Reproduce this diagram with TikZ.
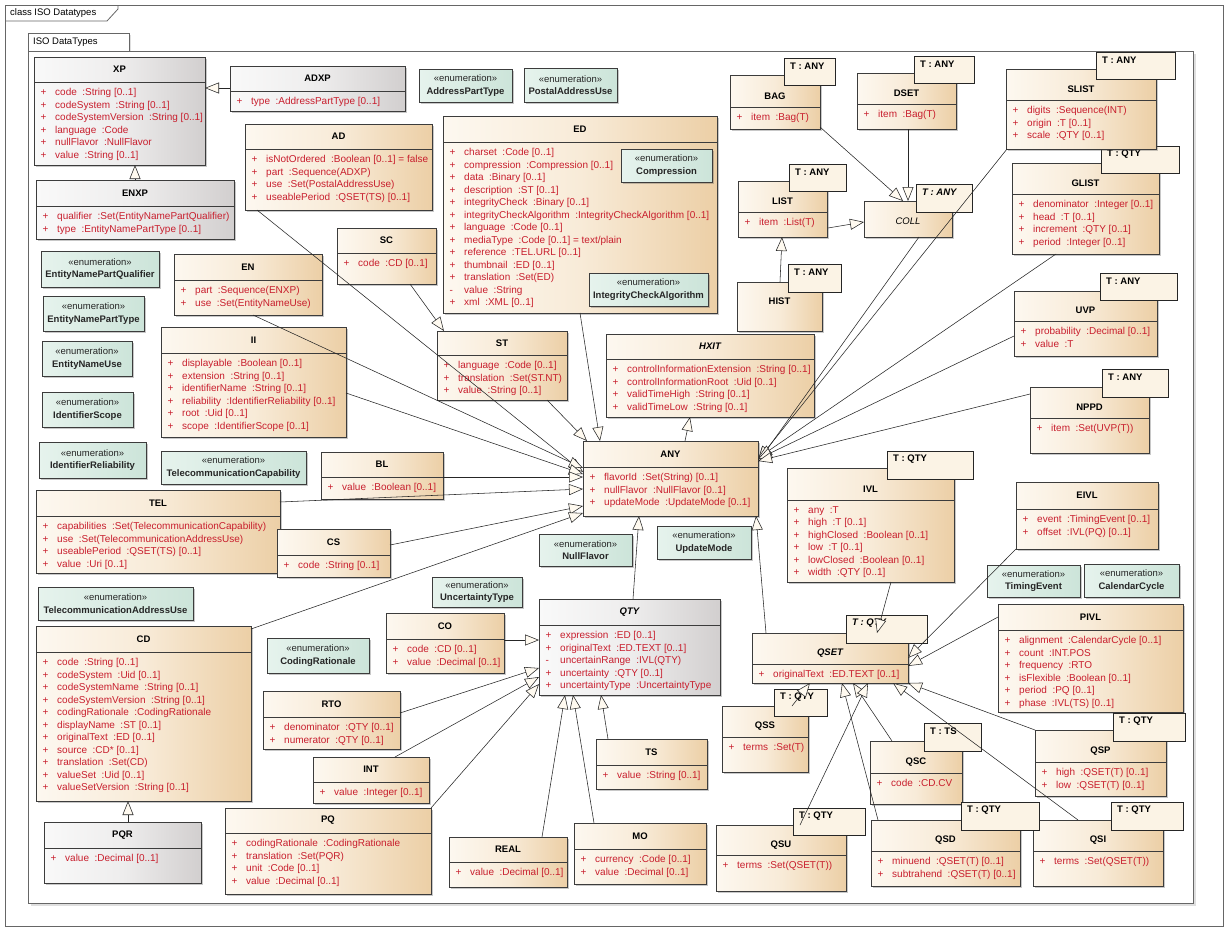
\documentclass[tikz,border=0pt]{standalone}
\usepackage{fontspec}
\setmainfont{Liberation Sans}
\usetikzlibrary{arrows.meta,fit,shadows,calc}
\definecolor{attrred}{RGB}{200,30,45}
\definecolor{tanL}{RGB}{253,248,240}
\definecolor{tanM}{RGB}{248,235,216}
\definecolor{tanR}{RGB}{236,207,166}
\definecolor{greyL}{RGB}{249,249,249}
\definecolor{greyM}{RGB}{238,237,237}
\definecolor{greyR}{RGB}{210,207,207}
\definecolor{enumL}{RGB}{230,243,237}
\definecolor{enumR}{RGB}{204,228,217}
\definecolor{tmplfill}{RGB}{251,243,229}
\definecolor{cream}{RGB}{255,250,240}
\definecolor{boxline}{RGB}{60,60,60}
\def\ap{\makebox[14.5pt][l]{+}}
\def\am{\makebox[14.5pt][l]{-}}
\def\gp{\hspace{5.5pt}}
\tikzset{
 cbox/.style={draw=boxline,line width=0.6pt,inner sep=0pt,outer sep=0pt,left color=tanL,right color=tanR,middle color=tanM,
   drop shadow={shadow xshift=2pt,shadow yshift=-2pt,opacity=0.3,fill=black!70}},
 greybox/.style={left color=greyL,right color=greyR,middle color=greyM},
 ebox/.style={draw=boxline,line width=0.6pt,inner sep=0pt,outer sep=0pt,left color=enumL,right color=enumR,
   drop shadow={shadow xshift=2pt,shadow yshift=-2pt,opacity=0.3,fill=black!70}},
 tbox/.style={draw=black!85,line width=0.7pt,inner sep=0pt,outer sep=0pt,fill=tmplfill},
 ttl/.style={font=\fontsize{9.5}{11}\selectfont\bfseries,inner sep=0pt},
 attrs/.style={font=\fontsize{10}{12.5}\selectfont,text=attrred,align=left,inner sep=0pt,anchor=north west},
 etxt/.style={font=\fontsize{9.5}{12.5}\selectfont,align=center,inner sep=0pt,text=black!85},
 tmtxt/.style={font=\fontsize{9.5}{11}\selectfont\bfseries,inner sep=0pt,anchor=west},
 gen/.style={draw=black!85,line width=0.55pt,-{Triangle[length=14pt,width=11pt,fill=cream,line width=0.55pt]}},
 sepline/.style={draw=boxline,line width=0.6pt},
 pkgline/.style={draw=black!60,line width=0.8pt},
}
% class with attributes: [style]{name}{fit}{header y}{title y}{title}{attributes}
\newcommand{\umlc}[7][]{%
  \node[cbox,#1,fit={#3}] (#2) {};
  \draw[sepline] (#2.west |- 0,#4) -- (#2.east |- 0,#4);
  \node[ttl] at (#2.center |- 0,#5) {#6};
  \node[attrs,xshift=6.5pt,yshift=-6.2pt] at (#2.west |- 0,#4) {#7};
}
% class with name only
\newcommand{\umln}[5][]{%
  \node[cbox,#1,fit={#3}] (#2) {};
  \node[ttl] at (#2.center |- 0,#4) {#5};
}
% template parameter box
\newcommand{\umlt}[4][]{%
  \node[tbox,fit={#3}] (#2) {};
  \node[tmtxt,#1,xshift=6pt,yshift=-8.5pt] at (#2.north west) {#4};
}
% enumeration
\newcommand{\umle}[3]{%
  \node[ebox,fit={#2}] (#1) {};
  \node[etxt] at (#1.center) {«enumeration»\\\textbf{#3}};
}
% generalization connector
\newcommand{\gline}[4]{\draw[gen] ([shift={(#2)}]#1.north west) -- ([shift={(#4)}]#3.north west);}
\begin{document}
\begin{tikzpicture}[x=1pt,y=-1pt]
\useasboundingbox (0,0) rectangle (1228,932);
\fill[white] (0,0) rectangle (1228,932);
% outer frame
\draw[pkgline] (5,5) rectangle (1223,926);
\draw[pkgline] (5,21) -- (107,21) -- (118,9) -- (118,5);
\node[font=\fontsize{9.5}{11}\selectfont,anchor=west,inner sep=0pt] (ftitle) at (10,13) {class ISO Datatypes};
% package
\draw[pkgline,fill=white,drop shadow={shadow xshift=2pt,shadow yshift=-2pt,opacity=0.25}] (28,33) rectangle (129,51);
\draw[pkgline,fill=white,drop shadow={shadow xshift=3pt,shadow yshift=-3pt,opacity=0.25}] (28,51) rectangle (1193,903);
\node[font=\fontsize{9.5}{11}\selectfont,anchor=west,inner sep=0pt] (ptitle) at (33,42) {ISO DataTypes};

% ---------- address / names
\umlc[greybox]{XP}{(34,57)(205,165)}{82}{69.5}{XP}{\ap code\gp:String [0..1]\\\ap codeSystem\gp:String [0..1]\\\ap codeSystemVersion\gp:String [0..1]\\\ap language\gp:Code\\\ap nullFlavor\gp:NullFlavor\\\ap value\gp:String [0..1]}
\umlc[greybox]{ADXP}{(230,66)(405,111)}{91}{78.5}{ADXP}{\ap type\gp:AddressPartType [0..1]}
\umlc[greybox]{ENXP}{(36,180)(234,239)}{206}{193}{ENXP}{\ap qualifier\gp:Set(EntityNamePartQualifier)\\\ap type\gp:EntityNamePartType [0..1]}
\umle{eAPT}{(419,69)(512,102)}{AddressPartType}
\umle{ePAU}{(524,68)(617,102)}{PostalAddressUse}
\umlc{AD}{(245,124)(432,210)}{149}{136.5}{AD}{\ap isNotOrdered\gp:Boolean [0..1] = false\\\ap part\gp:Sequence(ADXP)\\\ap use\gp:Set(PostalAddressUse)\\\ap useablePeriod\gp:QSET(TS) [0..1]}
\umlc{ED}{(443,116)(717,313)}{142}{129}{ED}{\ap charset\gp:Code [0..1]\\\ap compression\gp:Compression [0..1]\\\ap data\gp:Binary [0..1]\\\ap description\gp:ST [0..1]\\\ap integrityCheck\gp:Binary [0..1]\\\ap integrityCheckAlgorithm\gp:IntegrityCheckAlgorithm [0..1]\\\ap language\gp:Code [0..1]\\\ap mediaType\gp:Code [0..1] = text/plain\\\ap reference\gp:TEL.URL [0..1]\\\ap thumbnail\gp:ED [0..1]\\\ap translation\gp:Set(ED)\\\am value\gp:String\\\ap xml\gp:XML [0..1]}
\umle{eCMP}{(621,149)(712,182)}{Compression}
\umle{eICA}{(589,273)(708,306)}{IntegrityCheckAlgorithm}

% ---------- collections
\umlc{BAG}{(730,75)(820,129)}{107}{96}{BAG}{\ap item\gp:Bag(T)}
\umlt{BAGt}{(784,58)(835,85)}{T : ANY}
\umlc{DSET}{(857,73)(956,129)}{104}{93.5}{DSET}{\ap item\gp:Bag(T)}
\umlt{DSETt}{(914,56)(974,83)}{T : ANY}
\umlc{GLIST}{(1012,163)(1159,254)}{194}{183.5}{GLIST}{\ap denominator\gp:Integer [0..1]\\\ap head\gp:T [0..1]\\\ap increment\gp:QTY [0..1]\\\ap period\gp:Integer [0..1]}
\umlt{GLISTt}{(1101,146)(1179,173)}{T : QTY}
\umlc{SLIST}{(1006,69)(1156,149)}{100}{89.5}{SLIST}{\ap digits\gp:Sequence(INT)\\\ap origin\gp:T [0..1]\\\ap scale\gp:QTY [0..1]}
\umlt{SLISTt}{(1096,52)(1175,79)}{T : ANY}
\umlc{LIST}{(738,181)(827,237)}{212}{201.5}{LIST}{\ap item\gp:List(T)}
\umlt{LISTt}{(789,164)(846,191)}{T : ANY}
\umln{COLL}{(864,201)(952,237)}{221}{\mdseries\itshape COLL}
\umlt[font=\fontsize{9.5}{11}\selectfont\bfseries\itshape]{COLLt}{(916,184)(972,212)}{T : ANY}
\umln{HIST}{(737,282)(822,331)}{301}{HIST}
\umlt{HISTt}{(788,264)(841,292)}{T : ANY}
\umlc{UVP}{(1014,291)(1157,356)}{321}{310.5}{UVP}{\ap probability\gp:Decimal [0..1]\\\ap value\gp:T}
\umlt{UVPt}{(1100,273)(1177,300)}{T : ANY}
\umlc{NPPD}{(1030,387)(1149,453)}{418}{407.5}{NPPD}{\ap item\gp:Set(UVP(T))}
\umlt{NPPDt}{(1102,369)(1168,397)}{T : ANY}

% ---------- left column
\umle{eENPQ}{(41,251)(159,287)}{EntityNamePartQualifier}
\umle{eENPT}{(43,296)(144,331)}{EntityNamePartType}
\umle{eENU}{(42,341)(132,376)}{EntityNameUse}
\umle{eIDS}{(42,392)(133,427)}{IdentifierScope}
\umle{eIDR}{(39,442)(146,478)}{IdentifierReliability}
\umle{eTCC}{(161,451)(306,484)}{TelecommunicationCapability}
\umle{eTAU}{(38,587)(193,620)}{TelecommunicationAddressUse}
\umlc{EN}{(174,254)(322,315)}{280}{267}{EN}{\ap part\gp:Sequence(ENXP)\\\ap use\gp:Set(EntityNameUse)}
\umlc{SC}{(337,228)(436,284)}{253}{240.5}{SC}{\ap code\gp:CD [0..1]}
\umlc{II}{(161,327)(346,437)}{353}{340}{II}{\ap displayable\gp:Boolean [0..1]\\\ap extension\gp:String [0..1]\\\ap identifierName\gp:String [0..1]\\\ap reliability\gp:IdentifierReliability [0..1]\\\ap root\gp:Uid [0..1]\\\ap scope\gp:IdentifierScope [0..1]}
\umlc{ST}{(437,331)(567,400)}{355}{343}{ST}{\ap language\gp:Code [0..1]\\\ap translation\gp:Set(ST.NT)\\\ap value\gp:String [0..1]}
\umlc{HXIT}{(606,334)(814,417)}{359}{346.5}{\itshape HXIT}{\ap controlInformationExtension\gp:String [0..1]\\\ap controlInformationRoot\gp:Uid [0..1]\\\ap validTimeHigh\gp:String [0..1]\\\ap validTimeLow\gp:String [0..1]}
\umlc{ANY}{(583,441)(758,516)}{467}{454}{ANY}{\ap flavorId\gp:Set(String) [0..1]\\\ap nullFlavor\gp:NullFlavor [0..1]\\\ap updateMode\gp:UpdateMode [0..1]}
\umlc{BL}{(321,452)(443,499)}{477}{464.5}{BL}{\ap value\gp:Boolean [0..1]}
\umlc{TEL}{(36,490)(280,573)}{516}{503}{TEL}{\ap capabilities\gp:Set(TelecommunicationCapability)\\\ap use\gp:Set(TelecommunicationAddressUse)\\\ap useablePeriod\gp:QSET(TS) [0..1]\\\ap value\gp:Uri [0..1]}
\umlc{CS}{(277,529)(390,577)}{555}{542}{CS}{\ap code\gp:String [0..1]}
\umle{eNF}{(539,534)(632,566)}{NullFlavor}
\umle{eUM}{(657,526)(751,559)}{UpdateMode}
\umle{eUT}{(432,577)(522,607)}{UncertaintyType}
\umle{eCR}{(267,638)(369,673)}{CodingRationale}

% ---------- intervals / sets
\umlc{IVL}{(787,468)(954,582)}{500}{489.5}{IVL}{\ap any\gp:T\\\ap high\gp:T [0..1]\\\ap highClosed\gp:Boolean [0..1]\\\ap low\gp:T [0..1]\\\ap lowClosed\gp:Boolean [0..1]\\\ap width\gp:QTY [0..1]}
\umlt{IVLt}{(887,451)(973,479)}{T : QTY}
\umlc{EIVL}{(1016,482)(1158,549)}{509}{495.5}{EIVL}{\ap event\gp:TimingEvent [0..1]\\\ap offset\gp:IVL(PQ) [0..1]}
\umle{eTE}{(987,565)(1080,597)}{TimingEvent}
\umle{eCC}{(1084,564)(1179,597)}{CalendarCycle}
\umlc{PIVL}{(998,604)(1183,712)}{630}{617}{PIVL}{\ap alignment\gp:CalendarCycle [0..1]\\\ap count\gp:INT.POS\\\ap frequency\gp:RTO\\\ap isFlexible\gp:Boolean [0..1]\\\ap period\gp:PQ [0..1]\\\ap phase\gp:IVL(TS) [0..1]}
\umlc{QSET}{(752,633)(908,683)}{664}{653.5}{\itshape QSET}{\ap originalText\gp:ED.TEXT [0..1]}
\umlt[font=\fontsize{9.5}{11}\selectfont\bfseries\itshape]{QSETt}{(846,615)(927,643)}{T : QTY}
\umlc{QSS}{(722,706)(808,772)}{737}{726.5}{QSS}{\ap terms\gp:Set(T)}
\umlt{QSSt}{(774,689)(827,716)}{T : QTY}
\umlc{QSC}{(870,741)(962,804)}{773}{762}{QSC}{\ap code\gp:CD.CV}
\umlt{QSCt}{(924,723)(981,751)}{T : TS}
\umlc{QSP}{(1035,730)(1166,796)}{762}{751.5}{QSP}{\ap high\gp:QSET(T) [0..1]\\\ap low\gp:QSET(T) [0..1]}
\umlt{QSPt}{(1113,713)(1185,741)}{T : QTY}
\umlc{QSU}{(716,825)(846,891)}{855}{845}{QSU}{\ap terms\gp:Set(QSET(T))}
\umlt{QSUt}{(793,808)(865,835)}{T : QTY}
\umlc{QSI}{(1033,820)(1163,886)}{851}{840.5}{QSI}{\ap terms\gp:Set(QSET(T))}
\umlt{QSIt}{(1111,802)(1183,830)}{T : QTY}
\umlc{QSD}{(871,820)(1020,886)}{851}{840.5}{QSD}{\ap minuend\gp:QSET(T) [0..1]\\\ap subtrahend\gp:QSET(T) [0..1]}
\umlt{QSDt}{(961,802)(1039,830)}{T : QTY}

% ---------- quantities
\umlc[greybox]{QTY}{(539,599)(720,695)}{625}{612}{\itshape QTY}{\ap expression\gp:ED [0..1]\\\ap originalText\gp:ED.TEXT [0..1]\\\am uncertainRange\gp:IVL(QTY)\\\ap uncertainty\gp:QTY [0..1]\\\ap uncertaintyType\gp:UncertaintyType}
\umlc{CO}{(386,613)(504,673)}{639}{626}{CO}{\ap code\gp:CD [0..1]\\\ap value\gp:Decimal [0..1]}
\umlc{TS}{(596,739)(707,789)}{765}{752}{TS}{\ap value\gp:String [0..1]}
\umlc{REAL}{(449,837)(567,887)}{862}{849.5}{REAL}{\ap value\gp:Decimal [0..1]}
\umlc{MO}{(574,823)(706,884)}{849}{836}{MO}{\ap currency\gp:Code [0..1]\\\ap value\gp:Decimal [0..1]}
\umlc{PQ}{(225,808)(431,894)}{833}{820.5}{PQ}{\ap codingRationale\gp:CodingRationale\\\ap translation\gp:Set(PQR)\\\ap unit\gp:Code [0..1]\\\ap value\gp:Decimal [0..1]}
\umlc{INT}{(313,757)(429,803)}{782}{769.5}{INT}{\ap value\gp:Integer [0..1]}
\umlc{RTO}{(263,691)(400,749)}{717}{704}{RTO}{\ap denominator\gp:QTY [0..1]\\\ap numerator\gp:QTY [0..1]}
\umlc{CD}{(36,626)(251,801)}{652}{639}{CD}{\ap code\gp:String [0..1]\\\ap codeSystem\gp:Uid [0..1]\\\ap codeSystemName\gp:String [0..1]\\\ap codeSystemVersion\gp:String [0..1]\\\ap codingRationale\gp:CodingRationale\\\ap displayName\gp:ST [0..1]\\\ap originalText\gp:ED [0..1]\\\ap source\gp:CD* [0..1]\\\ap translation\gp:Set(CD)\\\ap valueSet\gp:Uid [0..1]\\\ap valueSetVersion\gp:String [0..1]}
\umlc[greybox]{PQR}{(44,822)(201,883)}{848}{835}{PQR}{\ap value\gp:Decimal [0..1]}

% ---------- generalizations
\gline{ADXP}{0,22}{XP}{171,31}
\gline{ENXP}{99,0}{XP}{101,108}
\gline{PQR}{84,0}{CD}{92,175}
\gline{AD}{12,86}{ANY}{0,31}
\gline{EN}{79,61}{ANY}{0,27}
\gline{II}{185,66}{ANY}{0,33}
\gline{BL}{122,25}{ANY}{0,36}
\gline{TEL}{244,12}{ANY}{0,48}
\gline{CS}{113,16}{ANY}{0,65}
\gline{CD}{215,3}{ANY}{0,72}
\gline{ST}{110,69}{ANY}{4,0}
\gline{ED}{137,197}{ANY}{17,0}
\gline{SC}{73,56}{ST}{7,0}
\gline{ANY}{102,0}{HXIT}{84,83}
\gline{QTY}{94,0}{ANY}{56,75}
\gline{QSET}{14,0}{ANY}{173,75}
\gline{COLL}{55,36}{ANY}{175,21}
\gline{SLIST}{1,80}{ANY}{175,19}
\gline{GLIST}{44,91}{ANY}{175,17}
\gline{UVP}{0,45}{ANY}{175,18}
\gline{NPPD}{0,7}{ANY}{175,20}
\gline{BAG}{90,52}{COLL}{39,0}
\gline{DSET}{51,56}{COLL}{44,0}
\gline{LIST}{90,47}{COLL}{0,21}
\gline{HIST}{43,0}{LIST}{44,56}
\gline{IVL}{104,114}{QSET}{125,0}
\gline{EIVL}{0,67}{QSET}{156,25}
\gline{PIVL}{0,13}{QSET}{156,33}
\gline{QSP}{0,0}{QSET}{156,50}
\gline{QSI}{45,0}{QSET}{141,50}
\gline{QSC}{22,0}{QSET}{101,50}
\gline{QSD}{7,0}{QSET}{90,50}
\gline{QSU}{84,0}{QSET}{116,50}
\gline{QSS}{70,0}{QSET}{58,50}
\gline{CO}{118,27}{QTY}{0,41}
\gline{RTO}{137,22}{QTY}{0,69}
\gline{INT}{82,0}{QTY}{0,78}
\gline{PQ}{206,0}{QTY}{0,85}
\gline{REAL}{93,0}{QTY}{26,96}
\gline{MO}{20,0}{QTY}{34,96}
\gline{TS}{12,0}{QTY}{62,96}
\end{tikzpicture}
\end{document}
